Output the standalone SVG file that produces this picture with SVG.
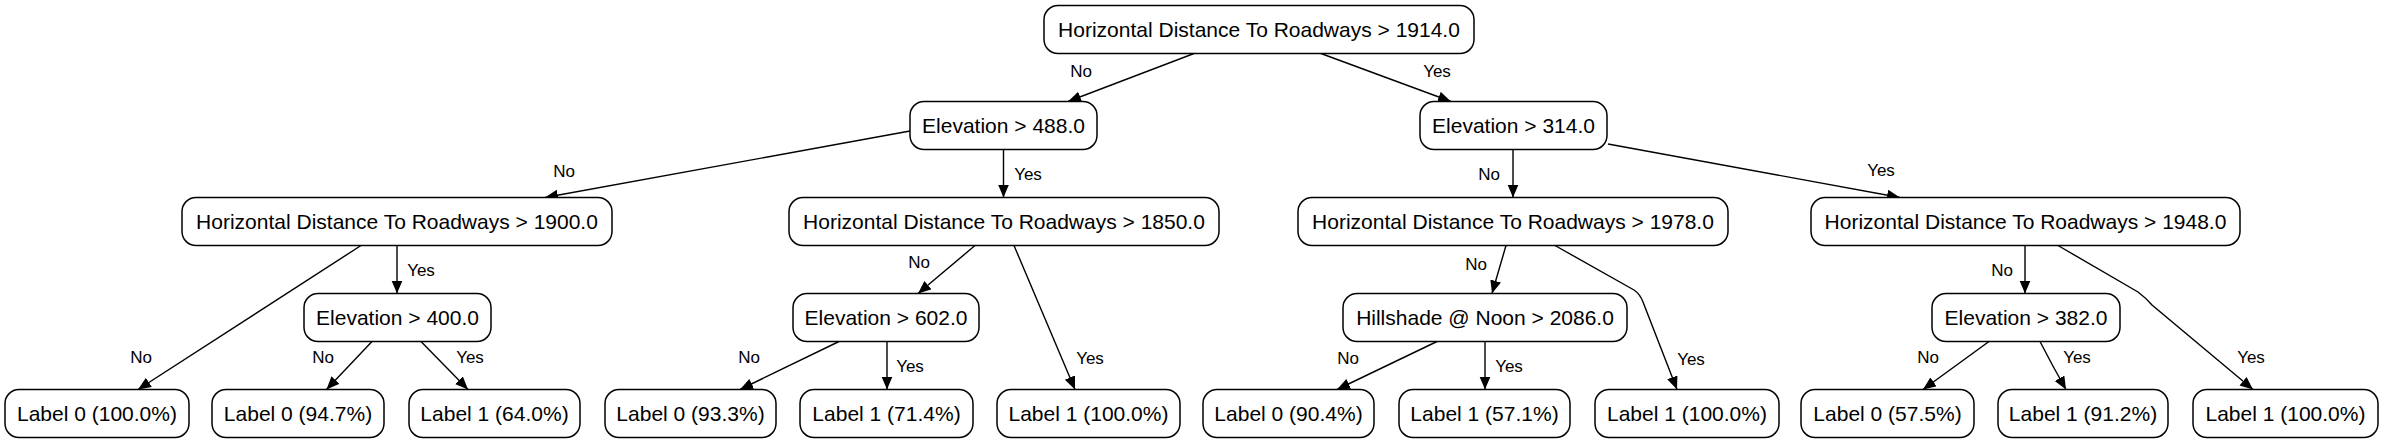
<svg xmlns="http://www.w3.org/2000/svg" width="2382" height="443" viewBox="0 0 2382 443">
<style>
.n rect{fill:#fff;stroke:#000;stroke-width:1.5}
.n text{font-family:"Liberation Sans",Arial,sans-serif;font-size:21px;text-anchor:middle;fill:#000}
.e path{fill:none;stroke:#000;stroke-width:1.4;marker-end:url(#ah)}
.e text{font-family:"Liberation Sans",Arial,sans-serif;font-size:17px;text-anchor:middle;fill:#000}
</style>
<defs>
<marker id="ah" markerUnits="userSpaceOnUse" markerWidth="14" markerHeight="12" refX="13" refY="5.5" orient="auto">
<path d="M0,0 L13,5.5 L0,11 z" fill="#000"/>
</marker>
</defs>
<rect width="2382" height="443" fill="#fff"/>
<g id="connectors" class="e">
<path d="M1194,53.5 L1068,101.5"/>
<path d="M1321,53.5 L1451,101.5"/>
<path d="M910,131 L545,197.5"/>
<path d="M1003.5,149.5 L1003.5,197.5"/>
<path d="M1513,149.5 L1513,197.5"/>
<path d="M1608,144 L1900,197.5"/>
<path d="M361,245.5 L138,389.5"/>
<path d="M397,245.5 L397,293.5"/>
<path d="M372,341.5 L326.5,389.5"/>
<path d="M421,341.5 L468,389.5"/>
<path d="M975,245.5 L918,293.5"/>
<path d="M1014,245.5 L1075,389.5"/>
<path d="M839,341.5 L740,389.5"/>
<path d="M887,341.5 L887,389.5"/>
<path d="M1506,245.5 L1492,293.5"/>
<path d="M1555,245.5 L1634,290 Q1640,294 1643,302 L1677,389.5"/>
<path d="M1437,341.5 L1337,389.5"/>
<path d="M1485,341.5 L1485,389.5"/>
<path d="M2025,245.5 L2025,293.5"/>
<path d="M2058,245.5 L2138,292 Q2146,298 2152,305 L2253,389.5"/>
<path d="M1989,341.5 L1923,389.5"/>
<path d="M2040,341.5 Q2052,365 2066,389.5"/>
<text x="1081" y="77">No</text>
<text x="1437" y="77">Yes</text>
<text x="564" y="177">No</text>
<text x="1028" y="180">Yes</text>
<text x="1489" y="180">No</text>
<text x="1881" y="176">Yes</text>
<text x="421" y="276">Yes</text>
<text x="919" y="268">No</text>
<text x="1476" y="270">No</text>
<text x="2002" y="276">No</text>
<text x="141" y="363">No</text>
<text x="323" y="363">No</text>
<text x="470" y="363">Yes</text>
<text x="749" y="363">No</text>
<text x="910" y="372">Yes</text>
<text x="1090" y="364">Yes</text>
<text x="1348" y="364">No</text>
<text x="1509" y="372">Yes</text>
<text x="1691" y="365">Yes</text>
<text x="1928" y="363">No</text>
<text x="2077" y="363">Yes</text>
<text x="2251" y="363">Yes</text>
</g>
<g id="root" class="n"><rect x="1044" y="5.5" width="430" height="48" rx="14"/><text x="1259" y="37">Horizontal Distance To Roadways &gt; 1914.0</text></g>
<g id="e488" class="n"><rect x="910" y="101.5" width="187" height="48" rx="14"/><text x="1003.5" y="133">Elevation &gt; 488.0</text></g>
<g id="e314" class="n"><rect x="1420" y="101.5" width="187" height="48" rx="14"/><text x="1513.5" y="133">Elevation &gt; 314.0</text></g>
<g id="h1900" class="n"><rect x="182" y="197.5" width="430" height="48" rx="14"/><text x="397" y="229">Horizontal Distance To Roadways &gt; 1900.0</text></g>
<g id="h1850" class="n"><rect x="789" y="197.5" width="430" height="48" rx="14"/><text x="1004" y="229">Horizontal Distance To Roadways &gt; 1850.0</text></g>
<g id="h1978" class="n"><rect x="1298" y="197.5" width="430" height="48" rx="14"/><text x="1513" y="229">Horizontal Distance To Roadways &gt; 1978.0</text></g>
<g id="h1948" class="n"><rect x="1811" y="197.5" width="429" height="48" rx="14"/><text x="2025.5" y="229">Horizontal Distance To Roadways &gt; 1948.0</text></g>
<g id="e400" class="n"><rect x="304" y="293.5" width="187" height="48" rx="14"/><text x="397.5" y="325">Elevation &gt; 400.0</text></g>
<g id="e602" class="n"><rect x="793" y="293.5" width="186" height="48" rx="14"/><text x="886" y="325">Elevation &gt; 602.0</text></g>
<g id="hill" class="n"><rect x="1343" y="293.5" width="284" height="48" rx="14"/><text x="1485" y="325">Hillshade @ Noon &gt; 2086.0</text></g>
<g id="e382" class="n"><rect x="1932" y="293.5" width="188" height="48" rx="14"/><text x="2026" y="325">Elevation &gt; 382.0</text></g>
<g id="l1" class="n"><rect x="5" y="389.5" width="184" height="48" rx="14"/><text x="97" y="421">Label 0 (100.0%)</text></g>
<g id="l2" class="n"><rect x="212" y="389.5" width="172" height="48" rx="14"/><text x="298" y="421">Label 0 (94.7%)</text></g>
<g id="l3" class="n"><rect x="409" y="389.5" width="171" height="48" rx="14"/><text x="494.5" y="421">Label 1 (64.0%)</text></g>
<g id="l4" class="n"><rect x="605" y="389.5" width="171" height="48" rx="14"/><text x="690.5" y="421">Label 0 (93.3%)</text></g>
<g id="l5" class="n"><rect x="800" y="389.5" width="173" height="48" rx="14"/><text x="886.5" y="421">Label 1 (71.4%)</text></g>
<g id="l6" class="n"><rect x="997" y="389.5" width="183" height="48" rx="14"/><text x="1088.5" y="421">Label 1 (100.0%)</text></g>
<g id="l7" class="n"><rect x="1203" y="389.5" width="171" height="48" rx="14"/><text x="1288.5" y="421">Label 0 (90.4%)</text></g>
<g id="l8" class="n"><rect x="1399" y="389.5" width="171" height="48" rx="14"/><text x="1484.5" y="421">Label 1 (57.1%)</text></g>
<g id="l9" class="n"><rect x="1595" y="389.5" width="184" height="48" rx="14"/><text x="1687" y="421">Label 1 (100.0%)</text></g>
<g id="l10" class="n"><rect x="1801" y="389.5" width="173" height="48" rx="14"/><text x="1887.5" y="421">Label 0 (57.5%)</text></g>
<g id="l11" class="n"><rect x="1998" y="389.5" width="170" height="48" rx="14"/><text x="2083" y="421">Label 1 (91.2%)</text></g>
<g id="l12" class="n"><rect x="2193" y="389.5" width="185" height="48" rx="14"/><text x="2285.5" y="421">Label 1 (100.0%)</text></g>
</svg>
